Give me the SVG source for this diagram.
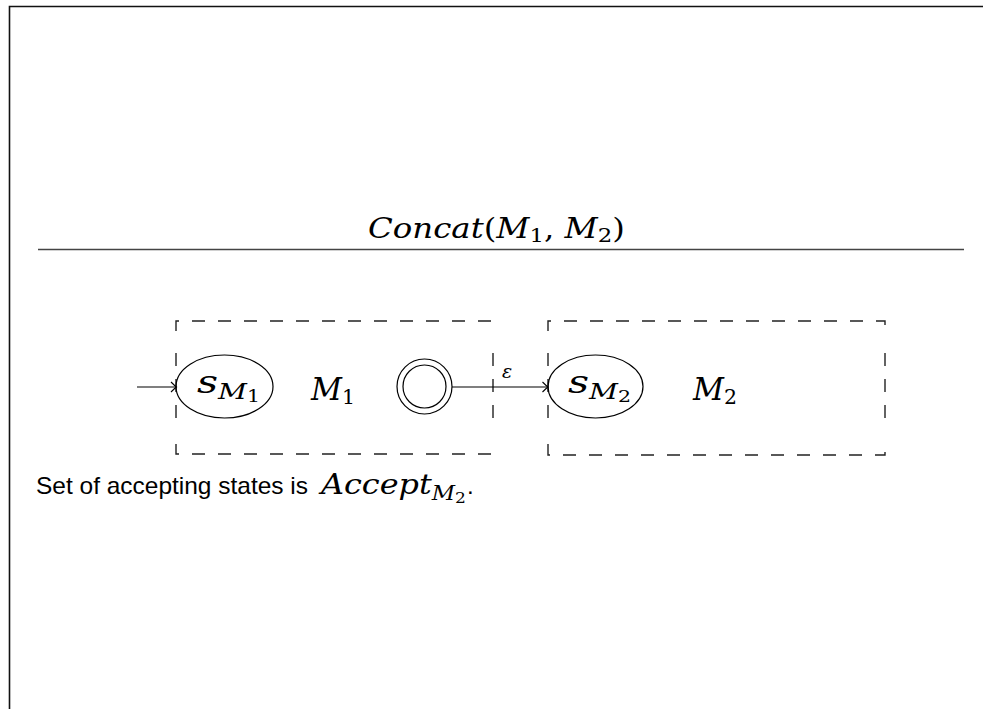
<svg xmlns="http://www.w3.org/2000/svg" width="983" height="709" viewBox="0 0 983 709">
<style>
.math{font-family:"DejaVu Serif","Liberation Serif",serif;font-style:italic;fill:#000}
.up{font-style:normal}
.sans{font-family:"Liberation Sans",Arial,sans-serif;fill:#000}
.dash{fill:none;stroke:#222;stroke-width:1.4;stroke-dasharray:13 13}
.st{fill:none;stroke:#000;stroke-width:1.2}
.edge{fill:none;stroke:#000;stroke-width:1.2}
</style>
<defs>
<marker id="to" viewBox="-6 -6 8 12" markerWidth="8" markerHeight="12" refX="0" refY="0" orient="auto" markerUnits="userSpaceOnUse">
<path d="M-5,-5 Q-1,-1.2 0.5,0 Q-1,1.2 -5,5" fill="none" stroke="#000" stroke-width="1.1"/>
</marker>
</defs>
<rect width="983" height="709" fill="#fff"/>
<g id="frame">
<path d="M9.5,709 V6.5 H983" fill="none" stroke="#111" stroke-width="1.6"/>
</g>
<g id="title">
<text class="math" x="368" y="238" font-size="27" textLength="257" lengthAdjust="spacingAndGlyphs">Concat<tspan class="up">(</tspan>M<tspan class="up" font-size="19" dy="4">1</tspan><tspan class="up" dy="-4">, </tspan>M<tspan class="up" font-size="19" dy="4">2</tspan><tspan class="up" dy="-4">)</tspan></text>
<line x1="38" y1="249.5" x2="964" y2="249.5" stroke="#444" stroke-width="1.6"/>
</g>
<g id="M1box">
<path class="dash" d="M176,331 V321 H493 V331"/>
<path class="dash" d="M176,444 V454 H493 V444"/>
<path class="dash" d="M176,350 V425" style="stroke-dashoffset:-3"/>
<path class="dash" d="M493,350 V425" style="stroke-dashoffset:-3"/>
</g>
<g id="M2box">
<path class="dash" d="M548,331 V321 H885 V331"/>
<path class="dash" d="M548,444 V455 H885 V444"/>
<path class="dash" d="M548,350 V425" style="stroke-dashoffset:-3"/>
<path class="dash" d="M885,350 V425" style="stroke-dashoffset:-3"/>
</g>
<g id="sM1">
<ellipse class="st" cx="224.5" cy="386.5" rx="48.5" ry="31.5"/>
<text class="math" x="197" y="393" font-size="32" textLength="63" lengthAdjust="spacingAndGlyphs">s<tspan font-size="22" dy="6">M</tspan><tspan class="up" font-size="16" dy="3">1</tspan></text>
</g>
<g id="M1label">
<text class="math" x="311" y="400" font-size="31" textLength="44" lengthAdjust="spacingAndGlyphs">M<tspan class="up" font-size="21" dy="4">1</tspan></text>
</g>
<g id="accept1">
<circle class="st" cx="424.5" cy="386.5" r="27.5"/>
<circle class="st" cx="424.5" cy="386.5" r="21.5"/>
</g>
<g id="sM2">
<ellipse class="st" cx="595.5" cy="386.5" rx="47.5" ry="31.5"/>
<text class="math" x="568" y="393" font-size="32" textLength="63" lengthAdjust="spacingAndGlyphs">s<tspan font-size="22" dy="6">M</tspan><tspan class="up" font-size="16" dy="3">2</tspan></text>
</g>
<g id="M2label">
<text class="math" x="693" y="400" font-size="31" textLength="44" lengthAdjust="spacingAndGlyphs">M<tspan class="up" font-size="21" dy="4">2</tspan></text>
</g>
<g id="connectors">
<line class="edge" x1="137" y1="387" x2="176" y2="387" marker-end="url(#to)"/>
<line class="edge" x1="452" y1="387" x2="547.5" y2="387" marker-end="url(#to)"/>
<text class="math" x="502" y="378" font-size="19">ε</text>
</g>
<g id="note">
<text class="sans" x="36" y="494" font-size="24" textLength="272" lengthAdjust="spacingAndGlyphs">Set of accepting states is</text>
<text class="math" x="321" y="494" font-size="28" textLength="145" lengthAdjust="spacingAndGlyphs">Accept<tspan font-size="20" dy="6">M</tspan><tspan class="up" font-size="15" dy="3">2</tspan></text>
<text class="sans" x="467" y="494" font-size="24">.</text>
</g>
</svg>
